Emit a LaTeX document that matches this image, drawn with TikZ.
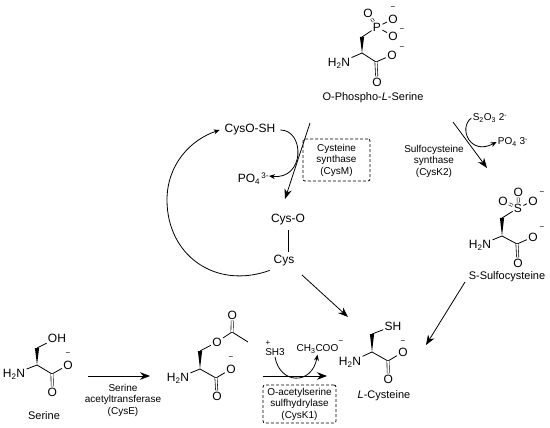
\documentclass[tikz,border=0pt]{standalone}
\usepackage{fontspec}
\setmainfont{Liberation Sans}
\usetikzlibrary{arrows.meta}

\begin{document}
\begin{tikzpicture}[
  x = 1pt, y = -1pt,
  line width = 0.8pt,
  every node/.style = {inner sep=1pt},
  atom/.style   = {font=\fontsize{12}{12}\selectfont},
  charge/.style = {inner sep=0pt, font=\fontsize{8}{8}\selectfont},
  title/.style  = {font=\fontsize{11}{11}\selectfont},
  reagent/.style = {font=\fontsize{10}{10}\selectfont},
  enzyme/.style = {font=\fontsize{10}{11.5}\selectfont, align=center},
  enzbox/.style = {enzyme, draw, dash pattern=on 3pt off 2pt, rounded corners=2pt},
  dbond/.style  = {double, double distance=1.6pt, line width=0.6pt},
  react/.style  = {-{Stealth[length=10pt, width=7.5pt]}},
  side/.style   = {-{Stealth[length=6pt, width=5pt]}},
]
\useasboundingbox (0,0) rectangle (550,428);

% O-phospho-L-serine
\node[atom] (pP)  at (377, 27) {P};
\node[atom] (pO1) at (368, 13) {O};
\node[atom] (pO2) at (393, 19) {O};
\node[atom] (pO3) at (393, 36) {O};
\coordinate (pC1) at (362, 37);
\coordinate (pCa) at (362, 53);
\node[atom] (pN)  at (339, 63) {H\textsubscript{2}N};
\coordinate (pC)  at (376, 62);
\node[atom] (pO4) at (392, 55) {O};
\node[atom] (pO5) at (377, 82) {O};
\node[title] (pName) at (373, 98) {O-Phospho-\textit{L}-Serine};

% S-sulfocysteine
\node[atom] (sS)  at (518, 208) {S};
\node[atom] (sO1) at (518.4, 192) {O};
\node[atom] (sO2) at (503, 201) {O};
\node[atom] (sO3) at (533, 201) {O};
\coordinate (sC1) at (502, 218);
\coordinate (sCa) at (502, 236);
\node[atom] (sN)  at (480, 245) {H\textsubscript{2}N};
\coordinate (sC)  at (517, 244);
\node[atom] (sO4) at (533, 237) {O};
\node[atom] (sO5) at (518, 263) {O};
\node[title] (sName) at (507, 277) {S-Sulfocysteine};

% serine
\node[atom] (rOH) at (57, 338) {OH};
\coordinate (rC1) at (37, 348);
\coordinate (rCa) at (37, 365);
\node[atom] (rN)  at (14, 374) {H\textsubscript{2}N};
\coordinate (rC)  at (52, 374);
\node[atom] (rO4) at (68, 365) {O};
\node[atom] (rO5) at (52.4, 392) {O};
\node[title] (rName) at (44, 416) {Serine};

% O-acetylserine
\node[atom] (aO1) at (232.4, 315) {O};
\coordinate (aC2) at (232, 332);
\coordinate (aMe) at (248, 342);
\node[atom] (aO2) at (217, 342) {O};
\coordinate (aC1) at (200, 351);
\coordinate (aCa) at (200, 369);
\node[atom] (aN)  at (178, 378) {H\textsubscript{2}N};
\coordinate (aC)  at (216, 378);
\node[atom] (aO4) at (231, 369) {O};
\node[atom] (aO5) at (217, 396) {O};

% L-cysteine
\node[atom] (cSH) at (393, 326) {SH};
\coordinate (cC1) at (372, 334);
\coordinate (cCa) at (372, 352);
\node[atom] (cN)  at (350, 362) {H\textsubscript{2}N};
\coordinate (cC)  at (388, 361);
\node[atom] (cO4) at (403, 352) {O};
\node[atom] (cO5) at (388.4, 379) {O};
\node[title] (cName) at (384, 396) {\textit{L}-Cysteine};

% charges
\foreach \n/\x/\y in {m1/393/8, m2/402/30, m3/402/48, m4/542/193, m5/542/228,
                      m6/68/354, m7/231/358, m8/403/342, m9/341/342}
  \node[charge] (\n) at (\x,\y) {−};

% cycle species
\node[atom] (cysosh) [outer sep=4pt] at (250, 130) {CysO-SH};
\node[atom] (po)     at (249, 179) {PO\textsubscript{4}};
\node[charge] (poch) at (265, 176) {3-};
\node[atom] (cyso)   [outer sep=4pt] at (288, 220) {Cys-O};
\node[atom] (cys)    [outer sep=3pt] at (284, 261) {Cys};

% small reagents
\node[reagent] (s2o3) at (490, 118) {S\textsubscript{2}O\textsubscript{3} 2\textsuperscript{-}};
\node[reagent] (po2)  at (513, 142) {PO\textsubscript{4} 3\textsuperscript{-}};
\node[charge] (plus)  at (268, 343) {+};
\node[reagent] (sh3)  at (275, 352) {SH3};
\node[reagent] (ac)   at (317.5, 349) {CH\textsubscript{3}COO};

% enzymes
\node[enzbox, minimum width=67pt, minimum height=42pt] (cysm) at (336.5, 160)
  {Cysteine\\synthase\\(CysM)};
\node[enzyme] (cysk2) at (434, 161) {Sulfocysteine\\synthase\\(CysK2)};
\node[enzyme] (cyse)  at (123, 400) {Serine\\acetyltransferase\\(CysE)};
\node[enzbox, minimum width=73pt, minimum height=38pt] (cysk1) at (299.5, 404)
  {O-acetylserine\\sulfhydrylase\\(CysK1)};

% free ends of the arrows
\coordinate (t1) at (310, 123);
\coordinate (h1) at (285, 199);
\coordinate (t2) at (453, 122);
\coordinate (h2) at (487, 168);
\coordinate (t3) at (88, 376);
\coordinate (h3) at (150, 376);
\coordinate (t4) at (263, 376);
\coordinate (h4) at (327, 376);
\coordinate (t5) at (302, 275);
\coordinate (h5) at (348, 317);
\coordinate (t6) at (465, 282);
\coordinate (h6) at (426, 345);

% bonds
\foreach \a/\b in {pP/pO2, pP/pO3, pP/pC1, pCa/pN, pCa/pC, pC/pO4,
                   sS/sO3, sS/sC1, sCa/sN, sCa/sC, sC/sO4,
                   rOH/rC1, rCa/rN, rCa/rC, rC/rO4,
                   aC2/aMe, aC2/aO2, aO2/aC1, aCa/aN, aCa/aC, aC/aO4,
                   cSH/cC1, cCa/cN, cCa/cC, cC/cO4}
  \draw (\a) -- (\b);
\foreach \a/\b in {pP/pO1, pC/pO5, sS/sO1, sS/sO2, sC/sO5,
                   rC/rO5, aC2/aO1, aC/aO5, cC/cO5}
  \draw[dbond] (\a) -- (\b);
\foreach \a/\b in {pCa/pC1, sCa/sC1, rCa/rC1, aCa/aC1, cCa/cC1}
  \fill (\a) -- ([xshift=-2.1pt]\b) -- ([xshift=2.1pt]\b) -- cycle;

% straight arrows
\foreach \a/\b in {t1/h1, t2/h2, t3/h3, t4/h4, t5/h5, t6/h6}
  \draw[react] (\a) -- (\b);
\draw (cyso.south) -- (cyso.south |- cys.north);

% curved arrows
\draw[side] (cys.south west) .. controls (215, 290) and (167, 255) .. (167, 200)
  .. controls (167, 165) and (190, 140) .. (cysosh.west);
\draw[side] (cysosh.east) .. controls (305, 130) and (305, 180) .. (poch.east);
\draw[side] (s2o3.west) .. controls (458, 128) and (470, 156) .. (po2.west);
\draw[side] (sh3.south) .. controls (280, 385) and (312, 385) .. (ac.south);

\end{tikzpicture}
\end{document}
